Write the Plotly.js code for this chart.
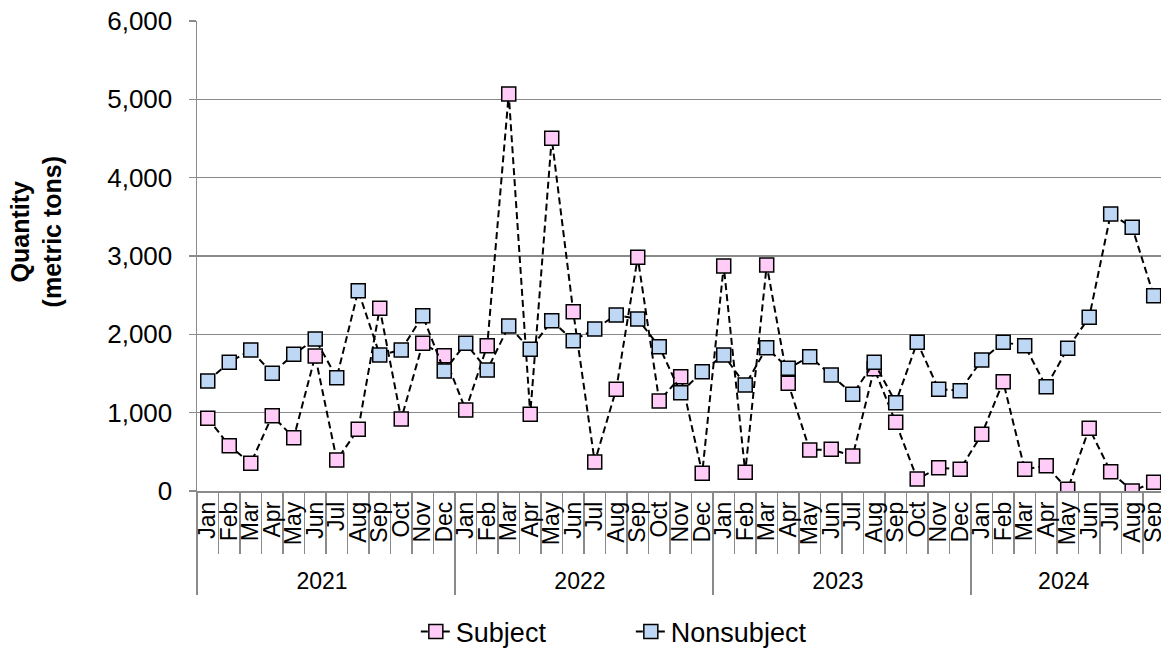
<!DOCTYPE html>
<html>
<head>
<meta charset="utf-8">
<script src="https://cdn.plot.ly/plotly-3.0.1.min.js"></script>
<style>html,body{margin:0;padding:0;background:#fff;}#chart{width:1161px;height:648px;}</style>
</head>
<body>
<div id="chart"></div>
<script>
const years = ["2021","2022","2023","2024"];
const monthNames = ["Jan","Feb","Mar","Apr","May","Jun","Jul","Aug","Sep","Oct","Nov","Dec"];
const monthsPerYear = [12, 12, 12, 9];

const subject = [
  928, 579, 353, 962, 681, 1723, 396, 787, 2332, 919, 1885, 1728,
  1034, 1855, 5068, 979, 4502, 2289, 370, 1298, 2983, 1149, 1460, 226,
  2872, 238, 2885, 1374, 523, 532, 447, 1560, 877, 153, 298, 277,
  723, 1396, 277, 323, 21, 800, 247, 0, 111
];
const nonsubject = [
  1404, 1643, 1800, 1502, 1745, 1940, 1447, 2557, 1736, 1800, 2238, 1532,
  1885, 1545, 2106, 1809, 2174, 1919, 2068, 2247, 2196, 1843, 1255, 1523,
  1736, 1353, 1830, 1566, 1715, 1481, 1234, 1643, 1128, 1898, 1298, 1281,
  1672, 1898, 1855, 1332, 1821, 2217, 3536, 3366, 2494
];

const yearLevel = [], monthLevel = [];
years.forEach((y, i) => {
  for (let m = 0; m < monthsPerYear[i]; m++) { yearLevel.push(y); monthLevel.push(monthNames[m]); }
});

const font = "Liberation Sans, Arial, sans-serif";
const gridColor = "#8a8a8a";

const mk = (name, vals, fill) => ({
  type: "scatter", mode: "lines+markers", name: name,
  x: [yearLevel, monthLevel], y: vals,
  line: {color: "#000", width: 2, dash: "7px,4px"},
  marker: {symbol: "square", size: 14, color: fill, line: {color: "#000", width: 1.5}},
  cliponaxis: true
});

const data = [mk("Subject", subject, "#FFCCF7"), mk("Nonsubject", nonsubject, "#BDD7F5")];

const pad = "\u00A0\u00A0\u00A0\u00A0\u00A0\u00A0\u00A0";

const layout = {
  width: 1161, height: 648,
  margin: {l: 197, r: 0, t: 21, b: 157},
  paper_bgcolor: "#fff", plot_bgcolor: "#fff",
  font: {family: font, color: "#000", size: 24},
  showlegend: true,
  legend: {orientation: "h", xref: "paper", x: 0.227, xanchor: "left",
           yref: "container", y: 0.0247, yanchor: "middle",
           font: {family: font, size: 27}, entrywidth: 170, entrywidthmode: "pixels",
           bgcolor: "rgba(0,0,0,0)"},
  xaxis: {
    type: "multicategory",
    range: [-0.5, 44.34],
    dtick: 1, tick0: 0,
    showline: true, linecolor: gridColor, linewidth: 1.5,
    ticks: "outside", tickson: "boundaries", ticklen: 61, tickcolor: gridColor, tickwidth: 1.5,
    tickangle: -90,
    tickfont: {family: font, size: 23},
    showdividers: true, dividercolor: gridColor, dividerwidth: 1.5,
    showgrid: false, zeroline: false, automargin: false
  },
  yaxis: {
    range: [0, 6000],
    tickvals: [0, 1000, 2000, 3000, 4000, 5000, 6000],
    ticktext: ["0", "1,000", "2,000", "3,000", "4,000", "5,000", "6,000"],
    showline: true, linecolor: gridColor, linewidth: 1.5,
    ticks: "outside", ticklen: 7, tickcolor: gridColor, tickwidth: 1.5,
    ticklabelstandoff: 11,
    showgrid: true, gridcolor: gridColor, gridwidth: 1.5,
    zeroline: false,
    tickfont: {family: font, size: 26},
    automargin: false,
    title: {text: "<b>" + pad + "Quantity</b><br><b>" + pad + "(metric tons)</b>", font: {family: font, size: 25}, standoff: 38}
  }
};

Plotly.newPlot("chart", data, layout, {displayModeBar: false, staticPlot: true});
</script>
</body>
</html>
